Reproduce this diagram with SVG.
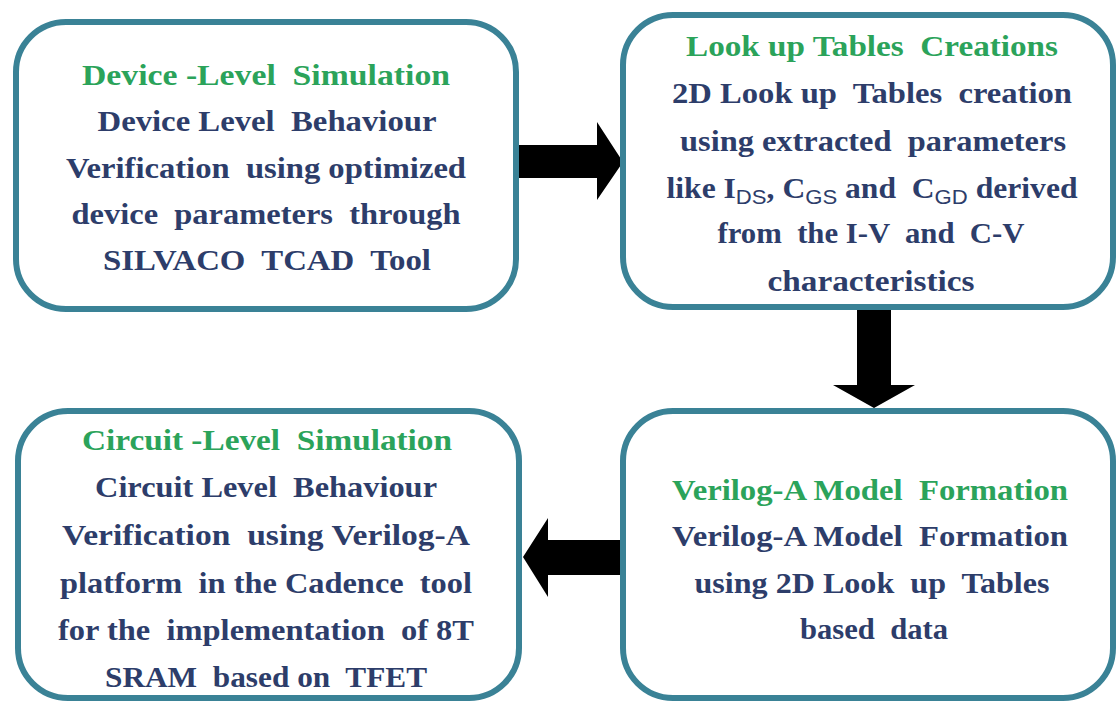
<svg xmlns="http://www.w3.org/2000/svg" width="1116" height="702" viewBox="0 0 1116 702">
<style>
.box{fill:#fff;stroke:#3a8296;stroke-width:6}
.t{font-family:"Liberation Serif","Times New Roman",serif;font-weight:bold;font-size:30px;text-anchor:middle;white-space:pre}
.g{fill:#2ba35a}
.b{fill:#2d3d6a}
.sub{font-family:"Liberation Sans",Arial,sans-serif;font-weight:normal;font-size:21px}
.arr{fill:#000}
</style>
<rect width="1116" height="702" fill="#fff"/>
<g id="connectors">
<polygon class="arr" points="516,145 597,145 597,122 623,162 597,200 597,178 516,178"/>
<polygon class="arr" points="857,307 891,307 891,385 915,385 874,408 833,385 857,385"/>
<polygon class="arr" points="623,540 548,540 548,518 523,557 548,597 548,575 623,575"/>
</g>
<g id="device">
<rect class="box" x="16" y="22" width="500" height="287" rx="50"/>
<text class="t g" x="266" y="85" textLength="368" lengthAdjust="spacingAndGlyphs">Device -Level  Simulation</text>
<text class="t b" x="267" y="131" textLength="339" lengthAdjust="spacingAndGlyphs">Device Level  Behaviour</text>
<text class="t b" x="266" y="178" textLength="400" lengthAdjust="spacingAndGlyphs">Verification  using optimized</text>
<text class="t b" x="266" y="224" textLength="389" lengthAdjust="spacingAndGlyphs">device  parameters  through</text>
<text class="t b" x="267" y="270" textLength="328" lengthAdjust="spacingAndGlyphs">SILVACO  TCAD  Tool</text>
</g>
<g id="lut">
<rect class="box" x="623" y="15" width="490" height="292" rx="50"/>
<text class="t g" x="872" y="56" textLength="372" lengthAdjust="spacingAndGlyphs">Look up Tables  Creations</text>
<text class="t b" x="872" y="103" textLength="400" lengthAdjust="spacingAndGlyphs">2D Look up  Tables  creation</text>
<text class="t b" x="873" y="151" textLength="386" lengthAdjust="spacingAndGlyphs">using extracted  parameters</text>
<text class="t b" x="872" y="198" textLength="411" lengthAdjust="spacingAndGlyphs">like I<tspan class="sub" dy="6">DS</tspan><tspan dy="-6">, C</tspan><tspan class="sub" dy="6">GS</tspan><tspan dy="-6"> and  C</tspan><tspan class="sub" dy="6">GD</tspan><tspan dy="-6"> derived</tspan></text>
<text class="t b" x="871" y="243" textLength="307" lengthAdjust="spacingAndGlyphs">from  the I-V  and  C-V</text>
<text class="t b" x="871" y="291" textLength="207" lengthAdjust="spacingAndGlyphs">characteristics</text>
</g>
<g id="circuit">
<rect class="box" x="18" y="411" width="501" height="287" rx="50"/>
<text class="t g" x="267" y="450" textLength="370" lengthAdjust="spacingAndGlyphs">Circuit -Level  Simulation</text>
<text class="t b" x="266" y="497" textLength="342" lengthAdjust="spacingAndGlyphs">Circuit Level  Behaviour</text>
<text class="t b" x="266" y="545" textLength="408" lengthAdjust="spacingAndGlyphs">Verification  using Verilog-A</text>
<text class="t b" x="266" y="593" textLength="412" lengthAdjust="spacingAndGlyphs">platform  in the Cadence  tool</text>
<text class="t b" x="266" y="640" textLength="416" lengthAdjust="spacingAndGlyphs">for the  implementation  of 8T</text>
<text class="t b" x="266" y="687" textLength="322" lengthAdjust="spacingAndGlyphs">SRAM  based on  TFET</text>
</g>
<g id="verilog">
<rect class="box" x="623" y="411" width="490" height="287" rx="50"/>
<text class="t g" x="870" y="500" textLength="396" lengthAdjust="spacingAndGlyphs">Verilog-A Model  Formation</text>
<text class="t b" x="870" y="546" textLength="396" lengthAdjust="spacingAndGlyphs">Verilog-A Model  Formation</text>
<text class="t b" x="872" y="593" textLength="355" lengthAdjust="spacingAndGlyphs">using 2D Look  up  Tables</text>
<text class="t b" x="874" y="639" textLength="148" lengthAdjust="spacingAndGlyphs">based  data</text>
</g>
</svg>
